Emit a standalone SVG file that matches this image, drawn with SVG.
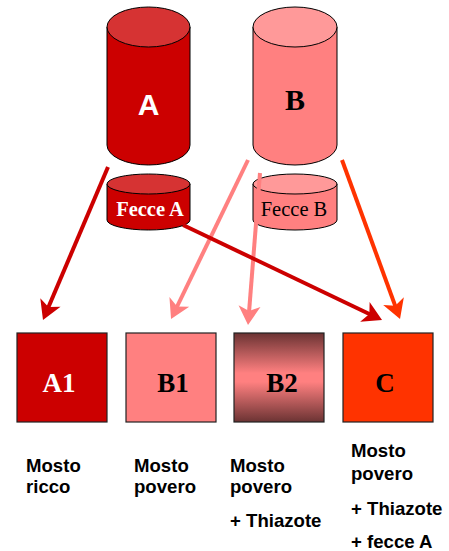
<svg xmlns="http://www.w3.org/2000/svg" width="449" height="551" viewBox="0 0 449 551">
<style>
.cyl{stroke:#000;stroke-width:1}
.box{stroke:#222;stroke-width:1.2}
.ser{font-family:"Liberation Serif","Times New Roman",serif}
.sb{font-family:"Liberation Serif","Times New Roman",serif;font-weight:bold}
.sans{font-family:"Liberation Sans",Arial,sans-serif;font-weight:bold}
.lbl{font-family:"Liberation Sans",Arial,sans-serif;font-weight:bold;font-size:18.6px;fill:#000}
.ln{fill:none;stroke-width:4}
</style>
<defs>
<linearGradient id="gB2" x1="0" y1="0" x2="0" y2="1">
<stop offset="0" stop-color="#6B3333"/>
<stop offset="0.45" stop-color="#FF8080"/>
<stop offset="0.55" stop-color="#FF8080"/>
<stop offset="1" stop-color="#6B3333"/>
</linearGradient>
<marker id="mDark" markerUnits="userSpaceOnUse" markerWidth="22" markerHeight="22" refX="9" refY="11" orient="auto" overflow="visible"><path d="M0,0 L19,11 L0,22 L5,11 Z" fill="#CC0000"/></marker>
<marker id="mPink" markerUnits="userSpaceOnUse" markerWidth="22" markerHeight="22" refX="9" refY="11" orient="auto" overflow="visible"><path d="M0,0 L19,11 L0,22 L5,11 Z" fill="#FF8080"/></marker>
<marker id="mOrange" markerUnits="userSpaceOnUse" markerWidth="22" markerHeight="22" refX="9" refY="11" orient="auto" overflow="visible"><path d="M0,0 L19,11 L0,22 L5,11 Z" fill="#FF3300"/></marker>
</defs>

<g id="nodeA">
<path class="cyl" d="M107,27 L107,145 A41.5,20 0 0 0 190,145 L190,27 Z" fill="#CC0000"/>
<ellipse class="cyl" cx="148.5" cy="27" rx="41.5" ry="20" fill="#D63333"/>
<text class="sans" x="148.5" y="115" font-size="30" fill="#fff" text-anchor="middle">A</text>
</g>
<g id="nodeB">
<path class="cyl" d="M253,27 L253,145 A42,20 0 0 0 337,145 L337,27 Z" fill="#FF8080"/>
<ellipse class="cyl" cx="295" cy="27" rx="42" ry="20" fill="#FF9999"/>
<text class="sb" x="295" y="110" font-size="30" fill="#000" text-anchor="middle">B</text>
</g>
<g id="nodeFecceA">
<path class="cyl" d="M107,184 L107,220 A41.5,10 0 0 0 190,220 L190,184 Z" fill="#CC0000"/>
<ellipse class="cyl" cx="148.5" cy="184" rx="41.5" ry="10" fill="#D63333"/>
<text class="sb" x="150" y="216" font-size="20.5" fill="#fff" text-anchor="middle">Fecce A</text>
</g>
<g id="nodeFecceB">
<path class="cyl" d="M253,184 L253,220 A42,10 0 0 0 337,220 L337,184 Z" fill="#FF8080"/>
<ellipse class="cyl" cx="295" cy="184" rx="42" ry="10" fill="#FF9999"/>
<text class="ser" x="294" y="216" font-size="20.5" fill="#000" text-anchor="middle">Fecce B</text>
</g>

<g id="nodeA1">
<rect class="box" x="17" y="333" width="90" height="89" fill="#CC0000"/>
<text class="sb" x="59" y="392" font-size="27" fill="#fff" text-anchor="middle">A1</text>
<text class="lbl" x="26" y="472">Mosto</text>
<text class="lbl" x="26" y="493">ricco</text>
</g>
<g id="nodeB1">
<rect class="box" x="126" y="333" width="90" height="89" fill="#FF8080"/>
<text class="sb" x="173" y="392" font-size="27" fill="#000" text-anchor="middle">B1</text>
<text class="lbl" x="134" y="472">Mosto</text>
<text class="lbl" x="134" y="493">povero</text>
</g>
<g id="nodeB2">
<rect class="box" x="234" y="333" width="90" height="89" fill="url(#gB2)"/>
<text class="sb" x="282" y="392" font-size="27" fill="#000" text-anchor="middle">B2</text>
<text class="lbl" x="230" y="472">Mosto</text>
<text class="lbl" x="230" y="493">povero</text>
<text class="lbl" x="230" y="527">+ Thiazote</text>
</g>
<g id="nodeC">
<rect class="box" x="343" y="333" width="90" height="89" fill="#FF3300"/>
<text class="sb" x="385" y="392" font-size="27" fill="#000" text-anchor="middle">C</text>
<text class="lbl" x="351" y="457">Mosto</text>
<text class="lbl" x="351" y="480">povero</text>
<text class="lbl" x="351" y="515">+ Thiazote</text>
<text class="lbl" x="351" y="548">+ fecce A</text>
</g>

<g id="connectors">
<path class="ln" d="M108,167 L46.9,310.8" stroke="#CC0000" marker-end="url(#mDark)"/>
<path class="ln" d="M248,160 L175.4,310" stroke="#FF8080" marker-end="url(#mPink)"/>
<path class="ln" d="M260,173 L248.8,315" stroke="#FF8080" marker-end="url(#mPink)"/>
<path class="ln" d="M342,160 L396.6,309.6" stroke="#FF3300" marker-end="url(#mOrange)"/>
<path class="ln" d="M183,225 L373,315.7" stroke="#CC0000" marker-end="url(#mDark)"/>
</g>
</svg>
